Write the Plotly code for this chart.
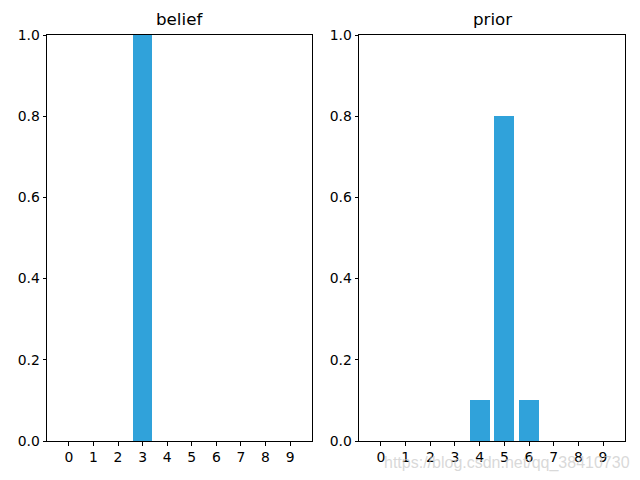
import plotly.graph_objects as go

positions = list(range(10))
tick_labels = [str(i) for i in positions]
belief = [0, 0, 0, 1.0, 0, 0, 0, 0, 0, 0]
prior = [0, 0, 0, 0, 0.1, 0.8, 0.1, 0, 0, 0]
titles = ["belief", "prior"]

color = "#30a2da"
W, H = 640, 480
left_dom = [47 / W, 312 / W]
right_dom = [359 / W, 625 / W]
y_dom = [1 - 441 / H, 1 - 35 / H]

fig = go.Figure()
fig.add_trace(go.Bar(x=positions, y=belief, width=0.8, marker=dict(color=color, line=dict(width=0)),
                     xaxis="x", yaxis="y", showlegend=False))
fig.add_trace(go.Bar(x=positions, y=prior, width=0.8, marker=dict(color=color, line=dict(width=0)),
                     xaxis="x2", yaxis="y2", showlegend=False))

font = dict(family="DejaVu Sans", size=13.9, color="black")
common_x = dict(range=[-0.89, 9.89], tickmode="array", tickvals=positions, ticktext=tick_labels,
                ticks="outside", ticklen=3.5, tickwidth=1, tickcolor="black",
                showline=True, linecolor="black", linewidth=1, mirror=True,
                showgrid=False, zeroline=False, tickfont=font, automargin=False)
common_y = dict(range=[0, 1.0], tickmode="array", tickvals=[0, 0.2, 0.4, 0.6, 0.8, 1.0],
                ticktext=["0.0", "0.2", "0.4", "0.6", "0.8", "1.0"],
                ticks="outside", ticklen=3.5, tickwidth=1, tickcolor="black",
                showline=True, linecolor="black", linewidth=1, mirror=True,
                showgrid=False, zeroline=False, tickfont=font, domain=y_dom, automargin=False)

fig.update_layout(
    width=W, height=H,
    margin=dict(l=0, r=0, t=0, b=0),
    plot_bgcolor="white", paper_bgcolor="white",
    bargap=0,
    xaxis=dict(domain=left_dom, anchor="y", **common_x),
    yaxis=dict(anchor="x", **common_y),
    xaxis2=dict(domain=right_dom, anchor="y2", **common_x),
    yaxis2=dict(anchor="x2", **common_y),
    annotations=[
        dict(text=titles[0], x=(left_dom[0] + left_dom[1]) / 2, y=y_dom[1], xref="paper", yref="paper",
             xanchor="center", yanchor="bottom", yshift=4, showarrow=False,
             font=dict(family="DejaVu Sans", size=16.7, color="black")),
        dict(text=titles[1], x=(right_dom[0] + right_dom[1]) / 2, y=y_dom[1], xref="paper", yref="paper",
             xanchor="center", yanchor="bottom", yshift=4, showarrow=False,
             font=dict(family="DejaVu Sans", size=16.7, color="black")),
        dict(text="https://blog.csdn.net/qq_38410730", x=632 / W, y=1 - 463 / H, xref="paper", yref="paper",
             xanchor="right", yanchor="middle", showarrow=False,
             font=dict(family="Liberation Sans", size=16, color="rgba(200,200,200,0.7)")),
    ],
)

fig.write_html("out.html")
